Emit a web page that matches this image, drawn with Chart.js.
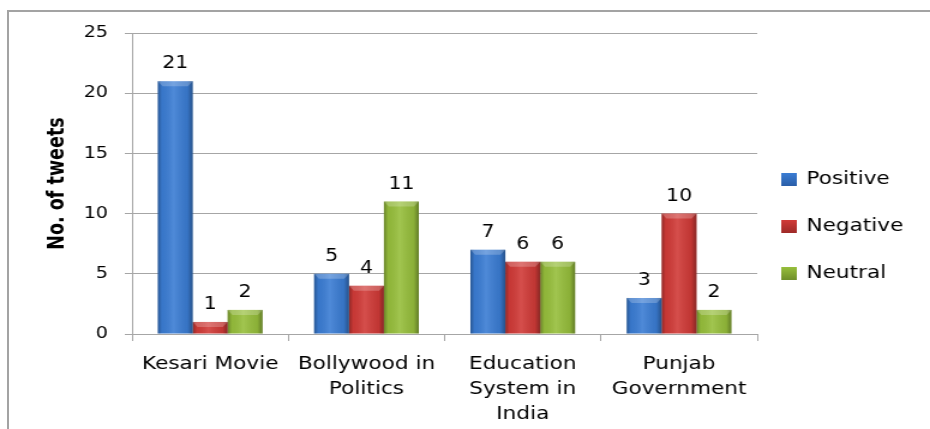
<!DOCTYPE html>
<html>
<head>
<meta charset="utf-8">
<script src="https://cdn.jsdelivr.net/npm/chart.js@4.4.1/dist/chart.umd.min.js"></script>
<style>
  html, body { margin: 0; padding: 0; background: #fff; }
  body { width: 930px; height: 429px; position: relative; overflow: hidden; }
  #frame { position: absolute; left: 7px; top: 10px; width: 923px; height: 419px; box-sizing: border-box;
           border-top: 2px solid #a3a3a3; border-left: 2px solid #a3a3a3; }
  #wrap { position: absolute; left: 0; top: 0; width: 775px; height: 429px;
          transform: scaleX(1.2); transform-origin: 0 0; }
</style>
</head>
<body>
<div id="frame"></div>
<div id="wrap"><canvas id="chart"></canvas></div>
<script>
// data
const categories = [['Kesari Movie'], ['Bollywood in', 'Politics'], ['Education', 'System in', 'India'], ['Punjab', 'Government']];
const seriesNames = ['Positive', 'Negative', 'Neutral'];
const positive = [21, 5, 7, 3];
const negative = [1, 4, 6, 10];
const neutral = [2, 11, 6, 2];
const yTicks = [0, 5, 10, 15, 20, 25];
const colors = ['#3b7dd4', '#d13b38', '#97bf3c'];
const darker = ['#2a5ea8', '#9e2a28', '#6f8f2a'];

const font = 'DejaVu Sans';

// shading on each bar, to get the bevelled look
const barShade = {
    id: 'barShade',
    afterDatasetsDraw(chart) {
        const ctx = chart.ctx;
        ctx.save();
        chart.data.datasets.forEach((ds, i) => {
            chart.getDatasetMeta(i).data.forEach(bar => {
                const l = bar.x - bar.width / 2, r = bar.x + bar.width / 2;
                const t = bar.y, b = bar.base;
                const g = ctx.createLinearGradient(l, 0, r, 0);
                g.addColorStop(0, 'rgba(0,0,0,0.30)');
                g.addColorStop(0.12, 'rgba(0,0,0,0.05)');
                g.addColorStop(0.45, 'rgba(255,255,255,0.10)');
                g.addColorStop(0.85, 'rgba(0,0,0,0.08)');
                g.addColorStop(1, 'rgba(0,0,0,0.35)');
                ctx.fillStyle = g;
                ctx.fillRect(l, t, r - l, b - t);
                // top bevel
                const h = Math.min(5, b - t);
                ctx.fillStyle = 'rgba(255,255,255,0.22)';
                ctx.beginPath();
                ctx.moveTo(l, t);
                ctx.lineTo(r, t);
                ctx.lineTo(r - 4, t + h);
                ctx.lineTo(l + 4, t + h);
                ctx.closePath();
                ctx.fill();
            });
        });
        ctx.restore();
    }
};

// value labels above the bars
const valueLabels = {
    id: 'valueLabels',
    afterDatasetsDraw(chart) {
        const ctx = chart.ctx;
        ctx.save();
        ctx.font = '17px "' + font + '"';
        ctx.fillStyle = '#000';
        ctx.textAlign = 'center';
        ctx.textBaseline = 'alphabetic';
        chart.data.datasets.forEach((ds, i) => {
            chart.getDatasetMeta(i).data.forEach((bar, j) => {
                ctx.fillText(ds.data[j], bar.x, bar.y - 13);
            });
        });
        ctx.restore();
    }
};

// legend on the right, Excel style
const sideLegend = {
    id: 'sideLegend',
    afterDraw(chart) {
        const ctx = chart.ctx;
        ctx.save();
        ctx.font = '18px "' + font + '"';
        ctx.textBaseline = 'middle';
        ctx.textAlign = 'left';
        chart.data.datasets.forEach((ds, i) => {
            const y = 179 + i * 47;
            const x = 651;
            const g = ctx.createLinearGradient(0, y - 6, 0, y + 7);
            g.addColorStop(0, ds.backgroundColor);
            g.addColorStop(1, ds.borderColor);
            ctx.fillStyle = g;
            ctx.fillRect(x, y - 6, 13, 13);
            ctx.fillStyle = '#000';
            ctx.fillText(ds.label, 672, y);
        });
        ctx.restore();
    }
};

new Chart(document.getElementById('chart'), {
    type: 'bar',
    data: {
        labels: categories,
        datasets: [positive, negative, neutral].map((d, i) => ({
            label: seriesNames[i],
            data: d,
            backgroundColor: colors[i],
            borderColor: darker[i],
            borderWidth: 0,
            categoryPercentage: 0.67,
            barPercentage: 1.0
        }))
    },
    options: {
        responsive: true,
        maintainAspectRatio: false,
        animation: false,
        layout: { padding: { top: 33, right: 144, bottom: 0, left: 0 } },
        plugins: {
            legend: { display: false },
            tooltip: { enabled: false }
        },
        scales: {
            x: {
                grid: { drawOnChartArea: false, tickLength: 7, color: '#a6a6a6', offset: true },
                border: { color: '#a6a6a6' },
                ticks: { color: '#000', padding: 11, maxRotation: 0, autoSkip: false,
                         font: { family: font, size: 18, lineHeight: 1.39 } },
                afterFit(s) { s.height = 95; }
            },
            y: {
                min: 0,
                max: 25,
                afterBuildTicks(s) { s.ticks = yTicks.map(v => ({ value: v })); },
                grid: { color: '#a6a6a6', tickLength: 6 },
                border: { color: '#a6a6a6' },
                ticks: { color: '#000', padding: 14, font: { family: font, size: 16 } },
                title: {
                    display: true,
                    text: 'No. of tweets',
                    color: '#000',
                    font: { family: "'Liberation Sans Narrow', 'DejaVu Sans Condensed', 'Liberation Sans'", weight: 'bold', size: 19.5 },
                    padding: { top: 36, bottom: 0 }
                },
                afterFit(s) { s.width = 110; }
            }
        }
    },
    plugins: [barShade, valueLabels, sideLegend]
});
</script>
</body>
</html>
